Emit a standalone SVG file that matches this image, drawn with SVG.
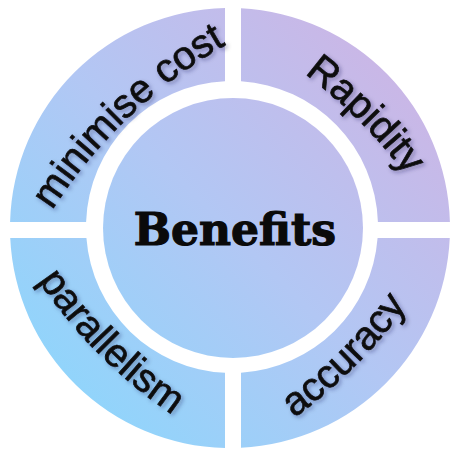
<svg xmlns="http://www.w3.org/2000/svg" width="454" height="454" viewBox="0 0 454 454">
  <defs>
    <!-- one diagonal wash shared by the ring and the hub -->
    <linearGradient id="wash" gradientUnits="userSpaceOnUse" x1="30" y1="430" x2="430" y2="30">
      <stop offset="0" stop-color="#88d8fd"/>
      <stop offset="0.5" stop-color="#b2c7f4"/>
      <stop offset="1" stop-color="#d0b3e3"/>
    </linearGradient>
    <filter id="soft" x="-20%" y="-20%" width="140%" height="140%">
      <feDropShadow dx="2" dy="2" stdDeviation="2.2" flood-color="#20204a" flood-opacity="0.35"/>
    </filter>
    <!-- flat arcs that carry the segment labels -->
    <path id="arc-tl" d="M 26.1 256.7 A 500 500 0 0 1 273.8 20.8"/>
    <path id="arc-tr" d="M 216.8 21.3 A 500 500 0 0 1 458.7 263.2"/>
    <path id="arc-bl" d="M -0.7 211.8 A 500 500 0 0 0 241.2 453.7"/>
    <path id="arc-br" d="M 212.8 465.7 A 500 500 0 0 0 454.7 223.8"/>
  </defs>
  <style>
    .seg { fill: url(#wash); }
    .lbl { font-family: "Liberation Sans", Arial, sans-serif; font-size: 40px; fill: #111; stroke: #111; stroke-width: 0.7px; filter: url(#soft); }
    .hub-text { font-family: "DejaVu Serif", "Liberation Serif", serif; font-weight: bold; font-size: 44px; fill: #0a0a0a; stroke: #0a0a0a; stroke-width: 1.2px; }
  </style>
  <rect width="454" height="454" fill="#ffffff"/>

  <g id="minimise-cost">
    <path class="seg" d="M 10.08 222 A 220 220 0 0 1 225 8.06 L 225 81.17 A 146 146 0 0 0 86.09 222 Z"/>
    <text class="lbl"><textPath href="#arc-tl" startOffset="50%" text-anchor="middle">minimise cost</textPath></text>
  </g>

  <g id="rapidity">
    <path class="seg" d="M 241 8.28 A 220 220 0 0 1 449.92 222 L 377.91 222 A 146 146 0 0 0 241 81.28 Z"/>
    <text class="lbl"><textPath href="#arc-tr" startOffset="50%" text-anchor="middle">Rapidity</textPath></text>
  </g>

  <g id="accuracy">
    <path class="seg" d="M 449.77 238 A 220 220 0 0 1 241 447.72 L 241 372.72 A 146 146 0 0 0 377.58 238 Z"/>
    <text class="lbl"><textPath href="#arc-br" startOffset="50%" text-anchor="middle">accuracy</textPath></text>
  </g>

  <g id="parallelism">
    <path class="seg" d="M 225 447.94 A 220 220 0 0 1 10.23 238 L 86.42 238 A 146 146 0 0 0 225 372.83 Z"/>
    <text class="lbl"><textPath href="#arc-bl" startOffset="50%" text-anchor="middle">parallelism</textPath></text>
  </g>

  <g id="benefits">
    <circle class="seg" cx="233" cy="228" r="130"/>
    <text class="hub-text" x="235" y="245" text-anchor="middle">Benefits</text>
  </g>
</svg>
